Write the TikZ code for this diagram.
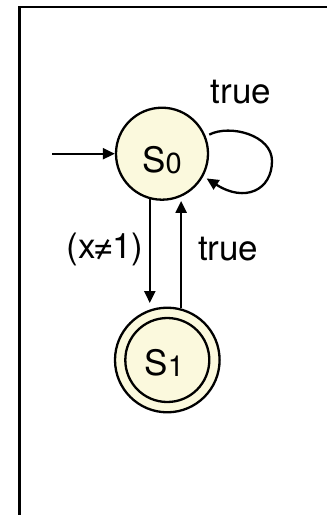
\documentclass[tikz,border=0pt]{standalone}
\usepackage{fontspec}
\setmainfont{TeX Gyre Heros}
\usetikzlibrary{arrows.meta,calc}
\definecolor{statefill}{RGB}{251,249,221}
\newcommand\statesub[1]{{\fontsize{29}{30}\selectfont\raisebox{-1pt}{#1}}}
\begin{document}
\begin{tikzpicture}[x=1pt,y=1pt,
  every node/.style={font=\fontsize{35}{40}\selectfont},
  state/.style={circle,draw,line width=2.3pt,fill=statefill,inner sep=0pt},
  edge/.style={line width=2.3pt,-{Triangle[length=12pt,width=11pt]}},
  lbl/.style={anchor=base,inner sep=0pt}]
\useasboundingbox (0,0) rectangle (327,-515);
\clip (0,0) rectangle (327,-515);
% frame
\draw[line width=2.4pt] (19.5,-530) -- (19.5,-6.8) -- (340,-6.8);
% states
\node[state,minimum size=92pt,text height=38pt,text depth=0pt] (s0) at (162,-153.7) {S\statesub{0}};
\node[state,minimum size=104.6pt,text height=30pt,text depth=0pt] (s1) at (167.3,-360) {\hspace*{-6pt}S\statesub{1}};
\draw[line width=2.3pt] (s1.center) circle (42pt);
% initial arrow
\coordinate (init) at (52,-153.7);
\draw[edge] (init) -- (s0.west);
% transitions
\draw[edge,shorten >=3.5pt] (s0.255) -- (s0.255 |- s1.north);
\draw[edge] (s1.75) -- (s1.75 |- s0.south);
\coordinate (loopout) at ($(s0.center)+(22:51)$);
\coordinate (loopin) at ($(s0.center)+(-29:51)$);
\draw[edge] (loopout) .. controls (230,-124) and (272,-135) .. (272,-161)
  .. controls (272,-190) and (245,-203) .. (loopin);
% labels
\node[lbl] (l1) at (241,-103) {true};
\node[lbl] (l2) at (105,-258.3) {(x\makebox[17pt]{≠}1)};
\node[lbl] (l3) at (228.3,-260.7) {true};
\end{tikzpicture}
\end{document}
